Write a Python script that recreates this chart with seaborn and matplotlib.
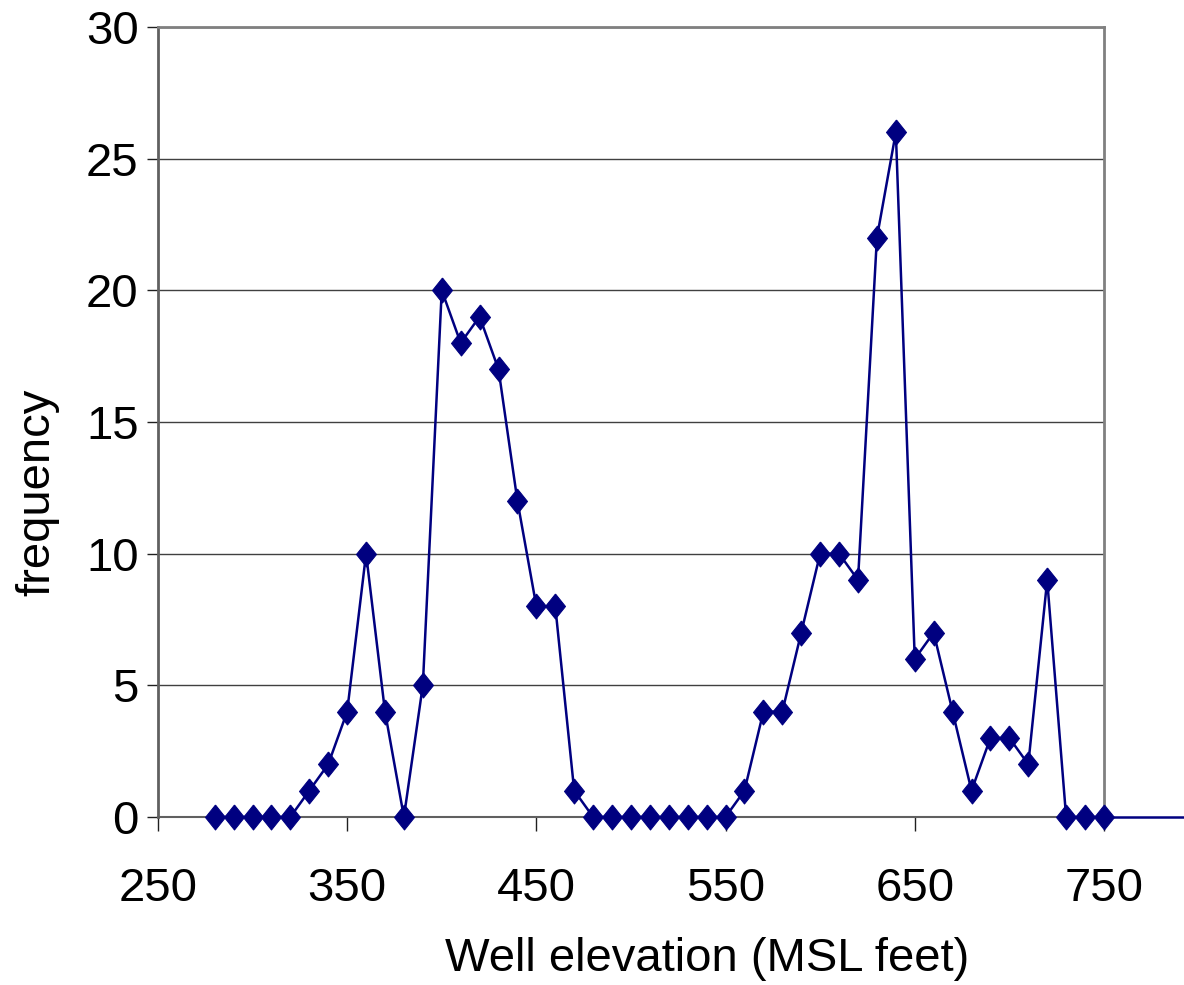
import numpy as np
import pandas as pd
import seaborn as sns
from matplotlib import pyplot as plt

# well elevation bins (MSL feet) and counts
elevation = list(range(280, 760, 10))
frequency = [0, 0, 0, 0, 0, 1, 2, 4, 10, 4,
             0, 5, 20, 18, 19, 17, 12, 8, 8, 1,
             0, 0, 0, 0, 0, 0, 0, 0, 1, 4,
             4, 7, 10, 10, 9, 22, 26, 6, 7, 4,
             1, 3, 3, 2, 9, 0, 0, 0]

# the zero line runs on past the plot edge
tail_x = [750, 800]
tail_y = [0, 0]

x_ticks = [250, 350, 450, 550, 650, 750]
y_ticks = [0, 5, 10, 15, 20, 25, 30]

df = pd.DataFrame({"Elevation": elevation, "Frequency": frequency})

sns.set_style("white")
plt.rcParams["font.family"] = ["Liberation Sans", "DejaVu Sans"]
plt.rcParams["text.color"] = "black"
plt.rcParams["xtick.color"] = "black"
plt.rcParams["ytick.color"] = "black"
plt.rcParams["axes.labelcolor"] = "black"

fig = plt.figure(figsize=(11.84, 9.85), dpi=100)
ax = fig.add_axes([0.1334, 0.1706, 0.799, 0.802])

diamond = [(0, 1), (0.8, 0), (0, -1), (-0.8, 0), (0, 1)]
navy = "#000080"

ax.plot(tail_x, tail_y, color=navy, linewidth=1.8, clip_on=False, zorder=2)
sns.lineplot(x="Elevation", y="Frequency", data=df, ax=ax, color=navy,
             linewidth=1.8, marker=diamond, markersize=18,
             markeredgecolor=navy, markerfacecolor=navy, errorbar=None,
             zorder=3, clip_on=False)

ax.set_xlim(250, 750)
ax.set_ylim(0, 30)
ax.set_xticks(x_ticks)
ax.set_yticks(y_ticks)

ax.yaxis.grid(True, color="#404040", linewidth=1)
ax.xaxis.grid(False)
ax.set_axisbelow(True)

for side in ["top", "right"]:
    ax.spines[side].set_color("#808080")
    ax.spines[side].set_linewidth(2)
ax.spines["left"].set_color("#606060")
ax.spines["left"].set_linewidth(2)
ax.spines["bottom"].set_color("#606060")
ax.spines["bottom"].set_linewidth(1.5)

ax.tick_params(axis="y", direction="out", length=8, width=1, color="#202020",
               labelsize=34, pad=6, left=True)
ax.tick_params(axis="x", direction="out", length=10, width=1, color="#202020",
               labelsize=34, pad=26, bottom=True)

ax.set_xlabel("Well elevation (MSL feet)", fontsize=34)
ax.set_ylabel("frequency", fontsize=34)
ax.xaxis.set_label_coords(0.58, -0.152)
ax.yaxis.set_label_coords(-0.104, 0.411)

fig.savefig("out.png", dpi=100)
